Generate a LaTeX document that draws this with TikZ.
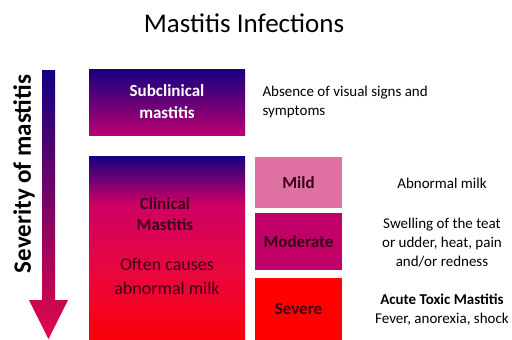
\documentclass[tikz,border=0pt]{standalone}
\usepackage{fontspec}
\setmainfont{Carlito}
\usetikzlibrary{positioning}
\definecolor{navy}{RGB}{20,0,130}
\definecolor{plum}{RGB}{185,0,110}
\definecolor{crimson}{RGB}{228,8,72}
\definecolor{redtop}{RGB}{250,0,10}
\definecolor{mildpink}{RGB}{222,112,162}
\definecolor{modmag}{RGB}{192,0,102}
\definecolor{darktxt}{RGB}{60,0,25}
\pgfdeclareverticalshading{clinshade}{100bp}{%
  color(0bp)=(redtop); color(25bp)=(redtop); color(45bp)=(crimson!90!red);
  color(62bp)=(rgb,255:red,205;green,0;blue,100); color(75bp)=(navy); color(100bp)=(navy)}

\begin{document}
\begin{tikzpicture}[x=1pt,y=-1pt,
  box/.style={minimum width=156pt,inner sep=0pt,align=center},
  lvl/.style={minimum width=87pt,inner sep=0pt,text=darktxt,font=\fontsize{17}{21}\selectfont\bfseries},
  note/.style={align=center,font=\fontsize{15}{19}\selectfont}]
 \useasboundingbox (0,0) rectangle (512,340);
 % title
 \node[font=\fontsize{27}{32}\selectfont] (title) at (244,23) {Mastitis Infections};
 % severity arrow
 \shade[top color=navy,bottom color=crimson]
   (42,70) -- (55,70) -- (55,300) -- (68,300) -- (48.5,339) -- (29,300) -- (42,300) -- cycle;
 \node[rotate=90,font=\fontsize{25}{30}\selectfont\bfseries] (sev) at (24,174) {Severity of mastitis};
 % subclinical
 \node[box,minimum height=66pt,top color=navy,bottom color=plum,text=white,
   font=\fontsize{17}{22}\selectfont\bfseries] (sub) at (167,102) {Subclinical\\mastitis};
 \node[note,align=left,anchor=west] (subnote) at (259,102) {Absence of visual signs and\\symptoms};
 % clinical
 \node[box,minimum height=184pt,shading=clinshade] (clin) at (167,248) {};
 \node[align=center,text=darktxt,font=\fontsize{17}{21}\selectfont\bfseries] (clinlab) at (165,214) {Clinical\\Mastitis};
 \node[align=center,text=darktxt,font=\fontsize{18}{24}\selectfont] (clinnote) at (167,276) {Often causes\\abnormal milk};
 % levels
 \node[lvl,minimum height=51pt,fill=mildpink] (mild) at (298.5,182.5) {Mild};
 \node[lvl,minimum height=57pt,fill=modmag] (mod) at (298.5,241.5) {Moderate};
 \node[lvl,minimum height=62pt,fill=red] (sev3) at (298.5,309) {Severe};
 \node[note] (mildnote) at (442,183) {Abnormal milk};
 \node[note] (modnote) at (442,243) {Swelling of the teat\\or udder, heat, pain\\and/or redness};
 \node[note] (sevnote) at (442,310) {\textbf{Acute Toxic Mastitis}\\Fever, anorexia, shock};
\end{tikzpicture}
\end{document}
